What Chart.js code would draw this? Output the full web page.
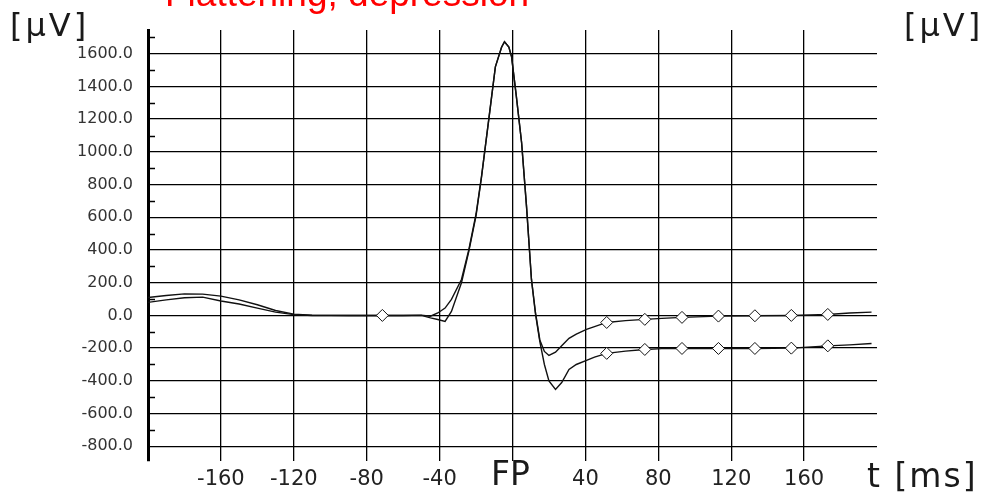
<!DOCTYPE html>
<html>
<head>
<meta charset="utf-8">
<script src="https://cdn.jsdelivr.net/npm/chart.js@4"></script>
<style>
  body { margin: 0; background: #fff; overflow: hidden; }
  #wrap { position: relative; width: 983px; height: 492px; }
  .lbl { position: absolute; font-family: "DejaVu Sans", sans-serif; color: #1a1a1a; white-space: nowrap; line-height: 1; }
  #title { position: absolute; left: 165px; top: -25px; font-family: "Liberation Sans", Arial, sans-serif; font-size: 37px; color: #ff0000; white-space: nowrap; line-height: 1; }
</style>
</head>
<body>
<div id="wrap">
  <canvas id="main-chart" width="983" height="492"></canvas>
  <div id="title">Flattening, depression</div>
  <div class="lbl" style="left:10px; top:9px; font-size:32px; letter-spacing:3px;">[µV]</div>
  <div class="lbl" style="left:904px; top:9px; font-size:32px; letter-spacing:3px;">[µV]</div>
  <div class="lbl" style="left:867px; top:459px; font-size:33px; letter-spacing:2px;">t [ms]</div>
  <div class="lbl" style="left:491px; top:457px; font-size:33px;">FP</div>
</div>
<script>
// time axis (ms) shared by both traces
var times = [-200, -190, -180, -170, -160, -150, -140, -130, -120, -110, -100, -90, -80, -71.4, -60, -50,
  -45, -41, -37, -33.5, -28, -24, -20, -17, -13, -9.4, -6, -4.4, -2, -0.5, 2, 5, 7.7, 10.4, 12.6,
  15, 17.5, 20, 23.6, 27, 31, 35, 40.6, 45, 51.7, 62, 72.6, 82, 93, 113, 133, 153, 173, 185, 197];

// upper trace (small dip after the peak)
var upperValues = [110, 122, 132, 130, 118, 95, 65, 30, 8, 2, 0, 0, 0, 0, 0, 2,
  -5, 15, 45, 98, 220, 400, 620, 850, 1200, 1520, 1640, 1673, 1640, 1581, 1350, 1056, 665, 220, 18,
  -150, -220, -245, -225, -185, -140, -115, -85, -68, -43, -32, -24, -18, -12, -4, -2, 0, 6, 15, 20];

// lower trace (depressed after the peak)
var lowerValues = [80, 95, 108, 112, 88, 70, 45, 20, 5, 0, 0, 0, 0, 0, 0, 0,
  -15, -25, -37, 24, 200, 390, 610, 845, 1200, 1520, 1640, 1673, 1640, 1581, 1350, 1056, 665, 220, 10,
  -160, -300, -400, -452, -410, -330, -300, -275, -255, -232, -218, -208, -203, -202, -202, -202, -200, -186, -180, -172];

// diamond markers
var upperMarkers = [-71.4, 51.7, 72.6, 93, 113, 133, 153, 173];
var lowerMarkers = [51.7, 72.6, 93, 113, 133, 153, 173];

var xTicks = [-160, -120, -80, -40, 0, 40, 80, 120, 160];
var yTicks = [-800, -600, -400, -200, 0, 200, 400, 600, 800, 1000, 1200, 1400, 1600];
var yMinorTicks = [-700, -500, -300, -100, 100, 300, 500, 700, 900, 1100, 1300, 1500, 1700];

function toPoints(vals) {
  return times.map(function (t, i) { return { x: t, y: vals[i] }; });
}

function markerRadius(list) {
  return function (c) {
    var t = times[c.dataIndex];
    return list.indexOf(t) >= 0 ? 6 : 0;
  };
}

var minorTickPlugin = {
  id: "minorTicks",
  afterDraw: function (chart) {
    var c = chart.ctx;
    var ys = chart.scales.y;
    var left = chart.chartArea.left;
    c.save();
    c.strokeStyle = "#000";
    c.lineWidth = 1.5;
    yMinorTicks.forEach(function (v) {
      var py = Math.round(ys.getPixelForValue(v)) + 0.5;
      c.beginPath();
      c.moveTo(left, py);
      c.lineTo(left + 7, py);
      c.stroke();
    });
    c.restore();
  },
};

var ctx = document.getElementById("main-chart");
var chart = new Chart(ctx, {
  type: "line",
  data: {
    datasets: [
      {
        label: "upper",
        data: toPoints(upperValues),
        borderColor: "#111",
        borderWidth: 1.4,
        tension: 0,
        fill: false,
        pointStyle: "rectRot",
        pointRadius: markerRadius(upperMarkers),
        pointBackgroundColor: "#fff",
        pointBorderColor: "#111",
        pointBorderWidth: 1,
      },
      {
        label: "lower",
        data: toPoints(lowerValues),
        borderColor: "#111",
        borderWidth: 1.4,
        tension: 0,
        fill: false,
        pointStyle: "rectRot",
        pointRadius: markerRadius(lowerMarkers),
        pointBackgroundColor: "#fff",
        pointBorderColor: "#111",
        pointBorderWidth: 1,
      },
    ],
  },
  options: {
    responsive: false,
    animation: false,
    layout: { padding: { left: 0, right: 106, top: 30, bottom: 0 } },
    plugins: {
      legend: { display: false },
      tooltip: { enabled: false },
    },
    scales: {
      x: {
        type: "linear",
        min: -200,
        max: 200,
        afterBuildTicks: function (s) {
          s.ticks = xTicks.map(function (v) { return { value: v }; });
        },
        afterFit: function (s) { s.height = 31; },
        border: { display: false },
        grid: { color: "#000", lineWidth: 1.3, drawTicks: false },
        ticks: {
          padding: 6,
          maxRotation: 0,
          autoSkip: false,
          color: "#222",
          font: { family: "DejaVu Sans", size: 21 },
          // the 0 position carries the "FP" label, placed as its own text
          callback: function (v) { return v === 0 ? "" : String(v); },
        },
      },
      y: {
        min: -890,
        max: 1745,
        afterBuildTicks: function (s) {
          s.ticks = yTicks.map(function (v) { return { value: v }; });
        },
        afterFit: function (s) { s.width = 148; },
        border: { display: true, color: "#000", width: 3 },
        grid: { color: "#000", lineWidth: 1.3, drawTicks: false },
        ticks: {
          padding: 15,
          color: "#333",
          font: { family: "DejaVu Sans", size: 16 },
          callback: function (v) { return v.toFixed(1); },
        },
      },
    },
  },
  plugins: [minorTickPlugin],
});
</script>
</body>
</html>
